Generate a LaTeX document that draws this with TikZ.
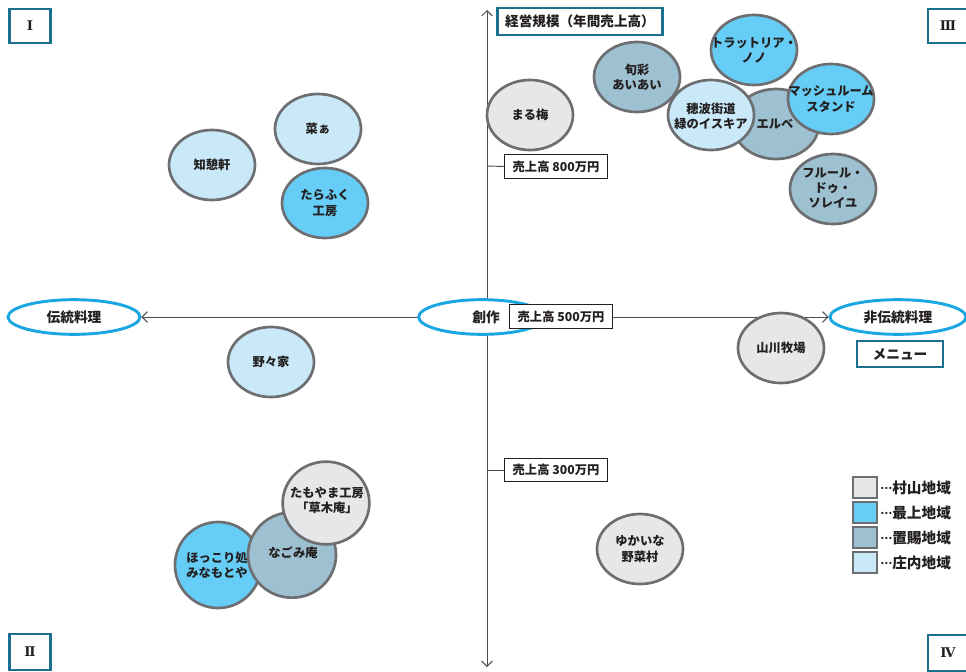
\documentclass[tikz,border=0pt]{standalone}
\usepackage{fontspec}
\setmainfont{Noto Sans CJK JP}
\newfontfamily\romfont{DejaVu Serif}
\usetikzlibrary{shapes.geometric,arrows.meta}
\definecolor{mur}{HTML}{E6E7E8}
\definecolor{mog}{HTML}{66CEF6}
\definecolor{oki}{HTML}{9EC1D1}
\definecolor{sho}{HTML}{C9E9F8}
\definecolor{outl}{HTML}{6D6E71}
\definecolor{teal}{HTML}{1B6F8F}
\definecolor{cyanb}{HTML}{1AA7E1}
\definecolor{txt}{HTML}{231F20}
\definecolor{axisc}{HTML}{4D4D4F}
\tikzset{
  shop/.style={ellipse, draw=outl, line width=2pt, minimum width=64.5pt, minimum height=52.5pt, inner sep=0pt},
  shoptext/.style={font=\bfseries\fontsize{9.2}{11.4}\selectfont, align=center, inner sep=0pt, text=txt},
  axisell/.style={ellipse, draw=cyanb, line width=2.2pt, fill=white, inner sep=0pt, minimum height=26pt, text=txt, font=\bfseries\fontsize{10.3}{12}\selectfont},
  tealbox/.style={draw=teal, line width=1.8pt, fill=white, inner sep=0pt, text=txt},
  salesbox/.style={draw=txt, line width=0.6pt, fill=white, inner sep=0pt, minimum width=77pt, minimum height=17.5pt, text=txt, font=\bfseries\fontsize{9.2}{11}\selectfont},
  romtext/.style={font=\romfont\bfseries\fontsize{10}{12}\selectfont, text=txt},
  axisline/.style={draw=axisc, line width=0.7pt},
  tip/.style={-{Straight Barb[length=4pt,width=8pt,line width=0.7pt]}},
  legbox/.style={draw=outl, line width=1.5pt, minimum width=18pt, minimum height=15.5pt, inner sep=0pt},
  legtext/.style={anchor=west, inner sep=0pt, text=txt, font=\bfseries\fontsize{11}{12}\selectfont},
}
\newcommand{\legdots}{\raisebox{0.25em}{\fontsize{8}{8}\selectfont…}}
\begin{document}
\begin{tikzpicture}[x=0.75pt,y=-0.75pt]
\useasboundingbox[fill=white] (0,0) rectangle (966,671);

% quadrant boxes
\node[tealbox, minimum width=31pt, minimum height=25.5pt, romtext] (q1) at (30,26) {Ⅰ};
\node[tealbox, minimum width=31pt, minimum height=27pt, romtext] (q2) at (30,652) {Ⅱ};
\node[tealbox, minimum width=30pt, minimum height=25.5pt, romtext] (q3) at (948,26) {Ⅲ};
\node[tealbox, minimum width=30pt, minimum height=27pt, romtext] (q4) at (948,653) {Ⅳ};

% axis end ellipses
\node[axisell, minimum width=99pt] (dento) at (74,317) {伝統料理};
\node[axisell, minimum width=102pt] (hidento) at (898,317) {非伝統料理};

% axes
\coordinate (vtop) at (487,10);
\coordinate (vbot) at (487,667);
\coordinate (vmid) at (487,317);
\draw[axisline, tip] (vmid) -- (vtop);
\draw[axisline, tip] (vmid) -- (vbot);
\draw[axisline, tip] (vmid) -- (dento.east);
\draw[axisline, tip] (vmid) -- (hidento.west);

% creation ellipse
\node[axisell, minimum width=95pt] (sosaku) at (482,317) {};
\node[inner sep=0pt, text=txt, font=\bfseries\fontsize{10.3}{12}\selectfont] (sosakut) at (486,317) {創作};

% title and menu
\node[tealbox, minimum width=124pt, minimum height=20pt, font=\bfseries\fontsize{10.2}{12}\selectfont] (title) at (580,21.5) {経営規模（年間売上高）};
\node[tealbox, minimum width=64.5pt, minimum height=19.5pt, font=\bfseries\fontsize{10.3}{12}\selectfont] (menu) at (900,354) {メニュー};

% sales boxes
\coordinate (t800) at (487,166);
\coordinate (t300) at (487,470);
\node[salesbox] (s800) at (556,166.5) {売上高 800万円};
\node[salesbox] (s500) at (561,316.5) {売上高 500万円};
\node[salesbox] (s300) at (556,470) {売上高 300万円};
\draw[axisline] (t800) -- (s800.west);
\draw[axisline] (t300) -- (s300.west);

% ---------- shop shapes ----------
\node[shop, fill=sho] (na) at (318,129) {};
\node[shop, fill=sho] (chikei) at (212,165) {};
\node[shop, fill=mog] (tarafuku) at (325,203) {};
\node[shop, fill=sho] (nonoya) at (271,362) {};
\node[shop, fill=mog, minimum width=64.5pt, minimum height=64.5pt] (hokkori) at (218,565) {};
\node[shop, fill=oki, minimum width=66pt, minimum height=64pt] (nagomi) at (292,555) {};
\node[shop, fill=mur, minimum width=65pt, minimum height=62pt] (tamoyama) at (326,503) {};
\node[shop, fill=mur] (maru) at (530,115) {};
\node[shop, fill=oki] (shunsai) at (637,77) {};
\node[shop, fill=mog] (tratt) at (754,50) {};
\node[shop, fill=oki] (erube) at (776,124) {};
\node[shop, fill=sho] (hotomi) at (711,115) {};
\node[shop, fill=mog] (mush) at (831,99) {};
\node[shop, fill=oki] (fleur) at (833,189) {};
\node[shop, fill=mur] (yamakawa) at (781,348) {};
\node[shop, fill=mur] (yukai) at (640,549) {};

% ---------- shop texts ----------
\node[shoptext] (na-t) at (na) {菜ぁ};
\node[shoptext] (chikei-t) at (chikei) {知憩軒};
\node[shoptext] (tarafuku-t) at (tarafuku) {たらふく\\工房};
\node[shoptext] (nonoya-t) at (nonoya) {野々家};
\node[shoptext] (hokkori-t) at (217,565) {ほっこり処\\みなもとや};
\node[shoptext] (nagomi-t) at (293,553) {なごみ庵};
\node[shoptext] (tamoyama-t) at (327,500) {たもやま工房\\「草木庵」};
\node[shoptext] (maru-t) at (maru) {まる梅};
\node[shoptext] (shunsai-t) at (shunsai) {旬彩\\あいあい};
\node[shoptext] (tratt-t) at (tratt) {トラットリア・\\ノノ};
\node[shoptext] (erube-t) at (775,124) {エルベ};
\node[shoptext] (hotomi-t) at (711,116) {穂波街道\\緑のイスキア};
\node[shoptext] (mush-t) at (mush) {マッシュルーム\\スタンド};
\node[shoptext] (fleur-t) at (833,188) {フルール・\\ドゥ・\\ソレイユ};
\node[shoptext] (yamakawa-t) at (yamakawa) {山川牧場};
\node[shoptext] (yukai-t) at (yukai) {ゆかいな\\野菜村};

% legend
\node[legbox, fill=mur] (l1) at (865,487.5) {};
\node[legbox, fill=mog] (l2) at (865,512.5) {};
\node[legbox, fill=oki] (l3) at (865,537.5) {};
\node[legbox, fill=sho] (l4) at (865,562.5) {};
\node[legtext] (l1t) at (880,487.5) {\legdots 村山地域};
\node[legtext] (l2t) at (880,512.5) {\legdots 最上地域};
\node[legtext] (l3t) at (880,537.5) {\legdots 置賜地域};
\node[legtext] (l4t) at (880,562.5) {\legdots 庄内地域};
\end{tikzpicture}
\end{document}
